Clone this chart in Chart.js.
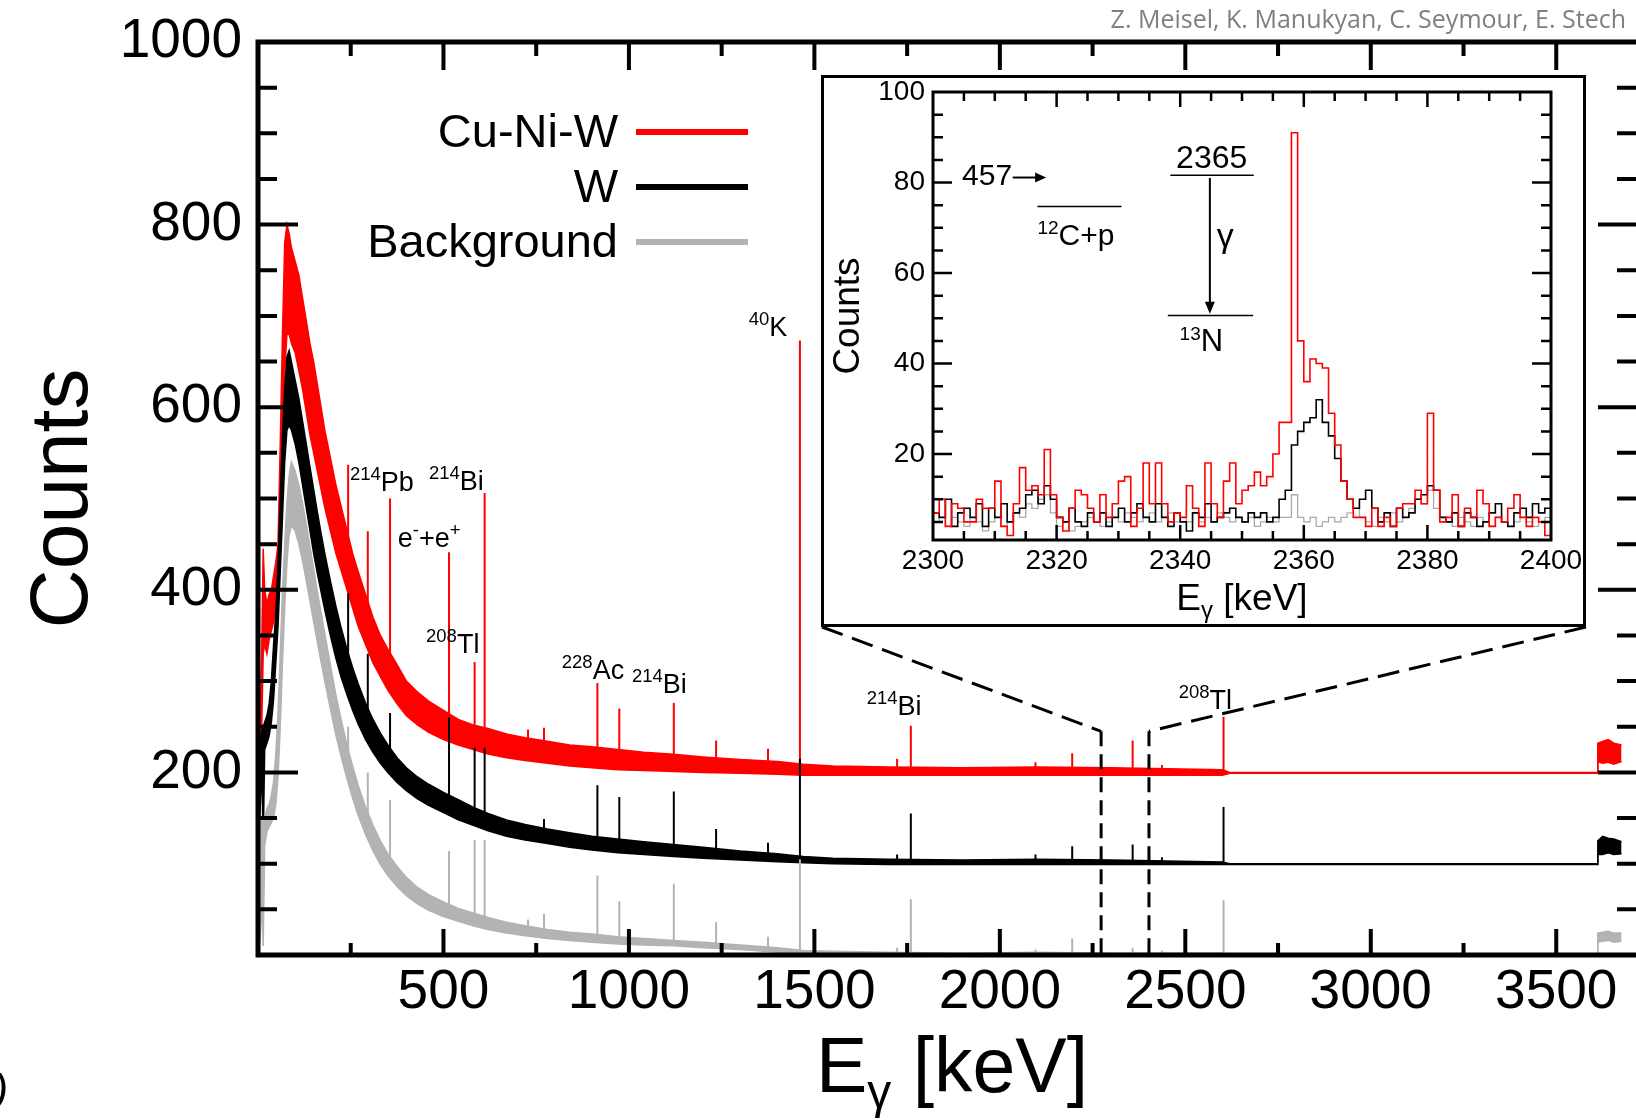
<!DOCTYPE html>
<html>
<head>
<meta charset="utf-8">
<title>Gamma spectra</title>
<script src="https://cdn.jsdelivr.net/npm/chart.js@4.4.1/dist/chart.umd.min.js"></script>
<style>
  html, body { margin: 0; padding: 0; background: #fff; }
  #wrap { position: relative; width: 1636px; height: 1120px; overflow: hidden; }
  #main { position: absolute; left: 0; top: 0; }
  #inset { position: absolute; left: 821px; top: 75px; background: #fff; }
</style>
</head>
<body>
<div id="wrap">
  <canvas id="main" width="1636" height="1120"></canvas>
  <canvas id="inset" width="765" height="552"></canvas>
</div>
<script>
const RED = '#ff0000';
const BLACK = '#000000';
const GREY = '#b3b3b3';
const FONT = "'Liberation Sans', Arial, sans-serif";
Chart.defaults.font.family = FONT;

const seriesNames = ['Cu-Ni-W', 'W', 'Background'];
const seriesColors = [RED, BLACK, GREY];

// continuum envelope (lower / upper edge of the noisy band), counts per bin;
// Cu-Ni-W is shifted up by 200 and W by 100
const bandKeV = [0, 2, 6, 10, 14, 18, 24, 30, 36, 42,
  48, 54, 60, 66, 72, 78, 84, 90, 100, 110,
  120, 130, 140, 150, 160, 170, 180, 195, 210, 225,
  240, 255, 270, 290, 310, 330, 350, 375, 400, 430,
  460, 500, 540, 580, 620, 670, 720, 780, 840, 900,
  970, 1040, 1120, 1200, 1300, 1400, 1470, 1550, 1700, 1900,
  2100, 2300, 2450, 2600, 2620, 3000, 3611, 3612, 3625, 3640,
  3655, 3676];

const cuNiWLow = [198, 198, 200, 250, 330, 340, 330, 345, 355, 365,
  380, 400, 460, 560, 640, 680, 680, 670, 660, 640,
  620, 595, 570, 550, 530, 510, 490, 465, 440, 420,
  400, 380, 360, 340, 320, 305, 290, 275, 262, 252,
  244, 236, 230, 225, 220, 216, 213, 210, 207, 205,
  203, 202, 201, 200, 199, 198, 197, 197, 197, 197,
  197, 197, 197, 197, 199, 199, 199, 212, 210, 211,
  209, 212];
const cuNiWHigh = [202, 204, 262, 330, 445, 400, 385, 395, 400, 415,
  430, 450, 560, 680, 780, 800, 790, 775, 760, 745,
  720, 695, 670, 650, 625, 600, 575, 545, 515, 490,
  465, 440, 420, 395, 370, 350, 335, 318, 300, 288,
  278, 268, 258, 252, 248, 242, 238, 234, 230, 228,
  225, 222, 220, 217, 214, 212, 209, 207, 206, 205,
  206, 205, 204, 203, 200, 200, 200, 232, 234, 236,
  232, 230];

const wLow = [110, 110, 160, 215, 120, 225, 232, 240, 255, 280,
  320, 360, 420, 480, 540, 575, 580, 575, 560, 540,
  515, 490, 465, 440, 418, 398, 378, 350, 325, 303,
  285, 268, 253, 236, 222, 210, 200, 189, 180, 171,
  164, 156, 148, 142, 136, 130, 126, 122, 118, 115,
  112, 110, 108, 106, 104, 102, 101, 100, 99, 99,
  99, 99, 99, 99, 99, 99, 99, 110, 110, 112,
  110, 111];
const wHigh = [120, 180, 235, 245, 250, 255, 262, 275, 300, 340,
  375, 430, 500, 570, 620, 655, 662, 650, 630, 610,
  585, 560, 535, 510, 485, 462, 440, 410, 382, 357,
  335, 315, 297, 276, 258, 243, 230, 216, 205, 195,
  187, 178, 170, 162, 155, 148, 143, 138, 134, 130,
  127, 124, 121, 118, 114, 111, 108, 106, 105, 104,
  105, 104, 103, 102, 100, 100, 100, 125, 130, 128,
  127, 124];

const bgLow = [0, 0, 20, 60, 10, 120, 135, 140, 145, 150,
  165, 195, 250, 320, 380, 430, 460, 470, 465, 450,
  432, 410, 388, 365, 343, 321, 300, 270, 241, 216,
  193, 172, 153, 132, 114, 99, 87, 75, 65, 56,
  49, 42, 37, 32, 28, 24, 21, 18, 16, 14,
  12, 11, 10, 8, 6, 3, 1, 0, 0, 0,
  0, 0, 0, 0, 0, 0, 0, 14, 15, 16,
  14, 15];
const bgHigh = [0, 60, 150, 150, 145, 150, 160, 165, 175, 190,
  220, 265, 330, 400, 450, 495, 525, 540, 530, 515,
  495, 472, 448, 423, 398, 375, 352, 318, 285, 256,
  230, 207, 186, 162, 142, 125, 111, 97, 85, 74,
  66, 58, 51, 46, 41, 36, 32, 28, 25, 23,
  20, 18, 16, 14, 11, 8, 5, 4, 3, 2,
  3, 2, 2, 2, 0, 0, 0, 24, 25, 26,
  24, 24];

// gamma lines: energy, foot and top of each spike
const peakKeV = [243, 296, 356, 515, 584, 611, 728, 771, 915, 974, 1121, 1235, 1375, 1461, 1723, 1760, 2096, 2195, 2358, 2437, 2603];
const cuNiWPeakBase = [432, 372, 322, 252, 238, 234, 226, 222, 216, 214, 210, 207, 204, 202, 201, 201, 201, 201, 201, 200, 200];
const cuNiWPeakTop = [537, 464, 500, 441, 321, 506, 247, 249, 298, 270, 276, 235, 226, 673, 215, 251, 211, 221, 235, 208, 261];
const wPeakBase = [310, 256, 215, 167, 152, 146, 134, 131, 122, 120, 115, 111, 107, 104, 102, 102, 101, 101, 101, 101, 100];
const wPeakTop = [396, 330, 265, 260, 227, 227, 138, 149, 186, 173, 179, 138, 123, 215, 110, 155, 110, 119, 121, 107, 162];
const bgPeakBase = [210, 147, 99, 50, 39, 35, 26, 23, 18, 16, 13, 10, 6, 3, 1, 1, 1, 1, 1, 1, 0];
const bgPeakTop = [250, 200, 170, 114, 126, 126, 39, 45, 87, 59, 78, 36, 20, 105, 8, 61, 6, 18, 8, 5, 60];

const mainXTicks = [500, 1000, 1500, 2000, 2500, 3000, 3500];
const mainYTicks = [200, 400, 600, 800, 1000];

// line identifications, anchored at the left end of the text baseline
const isotopeLabels = [
  { mass: '214', sym: 'Pb', keV: 248, counts: 508 },
  { mass: '214', sym: 'Bi', keV: 461, counts: 509 },
  { mass: '208', sym: 'Tl', keV: 453, counts: 331 },
  { mass: '228', sym: 'Ac', keV: 819, counts: 302 },
  { mass: '214', sym: 'Bi', keV: 1008, counts: 287 },
  { mass: '40', sym: 'K', keV: 1323, counts: 678 },
  { mass: '214', sym: 'Bi', keV: 1641, counts: 263 },
  { mass: '208', sym: 'Tl', keV: 2482, counts: 269 },
];
const annihilationLabel = { keV: 377, counts: 447 };

// zoom window drawn in the inset
const zoomFromKeV = 2273;
const zoomToKeV = 2402;
const zoomTopCounts = 245;

// inset: 1 keV bins starting at 2300 keV
const insetFirstBin = 2300;
const insetCuNiW = [7, 10, 4, 9, 8, 5, 5, 10, 8, 8,
  14, 4, 2, 9, 17, 12, 13, 11, 21, 11,
  6, 3, 8, 12, 11, 8, 5, 11, 6, 9,
  14, 15, 4, 8, 18, 9, 18, 9, 5, 7,
  6, 13, 8, 4, 18, 9, 6, 14, 18, 9,
  12, 13, 16, 13, 15, 20, 27, 27, 91, 45,
  36, 41, 40, 39, 29, 22, 14, 10, 6, 6,
  4, 8, 4, 6, 4, 8, 9, 9, 12, 9,
  29, 12, 5, 6, 11, 4, 8, 6, 12, 9,
  4, 6, 5, 8, 11, 6, 4, 6, 5, 2];
const insetW = [7, 6, 10, 4, 7, 8, 6, 9, 4, 8,
  6, 9, 5, 7, 8, 11, 12, 9, 13, 10,
  6, 5, 8, 5, 4, 7, 5, 7, 4, 6,
  8, 5, 7, 9, 6, 5, 9, 6, 4, 7,
  5, 3, 7, 6, 9, 5, 6, 7, 8, 6,
  5, 7, 6, 7, 5, 6, 10, 12, 22, 25,
  27, 28, 32, 27, 24, 19, 14, 10, 8, 10,
  12, 8, 5, 7, 4, 8, 6, 7, 10, 11,
  13, 12, 6, 5, 7, 4, 7, 6, 4, 5,
  7, 9, 5, 4, 7, 8, 6, 9, 7, 8];
const insetBg = [5, 6, 4, 6, 5, 4, 6, 5, 3, 5,
  6, 4, 5, 7, 6, 9, 8, 10, 11, 7,
  4, 5, 3, 4, 5, 6, 5, 4, 5, 6,
  5, 7, 6, 5, 6, 7, 5, 6, 7, 5,
  6, 5, 7, 5, 6, 5, 7, 6, 5, 6,
  5, 6, 4, 5, 6, 5, 6, 6, 11, 6,
  5, 6, 4, 5, 6, 5, 6, 7, 8, 6,
  5, 4, 6, 5, 7, 5, 6, 8, 10, 9,
  12, 8, 6, 5, 4, 6, 5, 4, 6, 5,
  4, 6, 5, 4, 5, 6, 5, 4, 5, 6];
const insetXTicks = [2300, 2320, 2340, 2360, 2380, 2400];
const insetYTicks = [20, 40, 60, 80, 100];

const credit = 'Z. Meisel, K. Manukyan, C. Seymour, E. Stech';

// fixes an axis box to a given thickness so the plot area lands where we want it
function pinScale(size) {
  return (scale) => {
    if (scale.isHorizontal()) scale.height = size; else scale.width = size;
    scale.paddingLeft = scale.paddingRight = scale.paddingTop = scale.paddingBottom = 0;
  };
}

function fixedTicks(values) {
  return (scale) => { scale.ticks = values.map(v => ({ value: v })); };
}

function spectrumDatasets(k, low, high, base, top, order) {
  const color = seriesColors[k];
  const edge = arr => bandKeV.map((e, i) => ({ x: e, y: arr[i] }));
  const spikes = [];
  peakKeV.forEach((e, i) => {
    spikes.push({ x: e, y: base[i] }, { x: e, y: top[i] }, { x: e, y: null });
  });
  return [
    { label: seriesNames[k], data: edge(high), borderColor: color, borderWidth: 1.5, fill: false, order },
    { label: seriesNames[k], data: edge(low), borderColor: color, backgroundColor: color, borderWidth: 1.5, fill: '-1', order },
    { label: seriesNames[k], data: spikes, borderColor: color, borderWidth: 2, fill: false, order },
  ];
}

function drawTicks(ctx, list) {
  ctx.beginPath();
  for (const [x0, y0, x1, y1] of list) { ctx.moveTo(x0, y0); ctx.lineTo(x1, y1); }
  ctx.stroke();
}

// text with a smaller raised part in front, e.g. mass number + element
function drawNuclide(ctx, px, py, mass, sym, big, small, raise) {
  ctx.font = `${small}px ${FONT}`;
  ctx.fillText(mass, px, py - raise);
  const w = ctx.measureText(mass).width;
  ctx.font = `${big}px ${FONT}`;
  ctx.fillText(sym, px + w, py);
}

// E with gamma subscript followed by the unit, centred on cx
function drawEgamma(ctx, cx, baseline, big, small, drop) {
  ctx.font = `${big}px ${FONT}`;
  const wE = ctx.measureText('E').width;
  const wRest = ctx.measureText(' [keV]').width;
  ctx.font = `${small}px ${FONT}`;
  const wG = ctx.measureText('γ').width;
  let x = cx - (wE + wG + wRest) / 2;
  ctx.textAlign = 'left';
  ctx.font = `${big}px ${FONT}`;
  ctx.fillText('E', x, baseline);
  x += wE;
  ctx.font = `${small}px ${FONT}`;
  ctx.fillText('γ', x, baseline + drop);
  x += wG;
  ctx.font = `${big}px ${FONT}`;
  ctx.fillText(' [keV]', x, baseline);
}

const mainDecor = {
  id: 'mainDecor',
  afterDraw(chart) {
    const { ctx, chartArea: a, scales: { x, y } } = chart;
    ctx.save();
    ctx.strokeStyle = '#000';
    ctx.fillStyle = '#000';

    // dashed lines from the inset frame down to the zoomed window
    const box = { left: 822, right: 1586, bottom: 627 };
    const xl = x.getPixelForValue(zoomFromKeV);
    const xr = x.getPixelForValue(zoomToKeV);
    const yt = y.getPixelForValue(zoomTopCounts);
    ctx.lineWidth = 3;
    ctx.setLineDash([22, 10]);
    ctx.beginPath();
    ctx.moveTo(box.left, box.bottom); ctx.lineTo(xl, yt);
    ctx.moveTo(box.right, box.bottom); ctx.lineTo(xr, yt);
    ctx.stroke();
    ctx.setLineDash([15, 8]);
    ctx.beginPath();
    ctx.moveTo(xl, yt); ctx.lineTo(xl, a.bottom);
    ctx.moveTo(xr, yt); ctx.lineTo(xr, a.bottom);
    ctx.stroke();
    ctx.setLineDash([]);

    // frame (the right edge sits on the canvas border)
    ctx.lineWidth = 5;
    ctx.beginPath();
    ctx.moveTo(a.right + 3, a.top); ctx.lineTo(a.left, a.top);
    ctx.lineTo(a.left, a.bottom); ctx.lineTo(a.right + 3, a.bottom);
    ctx.stroke();

    // ticks pointing into the plot on all sides
    ctx.lineWidth = 4;
    const t = [];
    for (let v = 250; v <= x.max; v += 250) {
      const px = x.getPixelForValue(v);
      const major = v % 500 === 0;
      t.push([px, a.top, px, a.top + (major ? 28 : 14)]);
      t.push([px, a.bottom, px, a.bottom - (major ? 26 : 12)]);
    }
    for (let v = 50; v < y.max; v += 50) {
      const py = y.getPixelForValue(v);
      const major = v % 200 === 0;
      t.push([a.left, py, a.left + (major ? 40 : 19), py]);
      t.push([a.right, py, a.right - (major ? 38 : 19), py]);
    }
    drawTicks(ctx, t);

    // axis titles
    ctx.textAlign = 'center';
    ctx.textBaseline = 'alphabetic';
    ctx.save();
    ctx.translate(87, (a.top + a.bottom) / 2);
    ctx.rotate(-Math.PI / 2);
    ctx.font = `82px ${FONT}`;
    ctx.fillText('Counts', 0, 0);
    ctx.restore();
    drawEgamma(ctx, 952, 1092, 77, 48, 16);

    // legend
    ctx.textAlign = 'right';
    ctx.font = `47px ${FONT}`;
    seriesNames.forEach((name, i) => {
      const ly = 132 + i * 55;
      ctx.fillStyle = '#000';
      ctx.fillText(name, 618, ly + 15);
      ctx.strokeStyle = seriesColors[i];
      ctx.lineWidth = 6;
      ctx.beginPath();
      ctx.moveTo(636, ly); ctx.lineTo(748, ly);
      ctx.stroke();
    });

    // line identifications
    ctx.textAlign = 'left';
    ctx.fillStyle = '#000';
    for (const lab of isotopeLabels) {
      drawNuclide(ctx, x.getPixelForValue(lab.keV), y.getPixelForValue(lab.counts), lab.mass, lab.sym, 27, 18.5, 11);
    }
    let ex = x.getPixelForValue(annihilationLabel.keV);
    const ey = y.getPixelForValue(annihilationLabel.counts);
    for (const [s, size, raise] of [['e', 27, 0], ['-', 18.5, 11], ['+', 27, 0], ['e', 27, 0], ['+', 18.5, 11]]) {
      ctx.font = `${size}px ${FONT}`;
      ctx.fillText(s, ex, ey - raise);
      ex += ctx.measureText(s).width;
    }

    // author line
    ctx.fillStyle = '#7f7f7f';
    ctx.font = "25px 'Open Sans', sans-serif";
    const cw = ctx.measureText(credit).width;
    ctx.save();
    ctx.translate(1626, 28);
    ctx.scale(Math.min(1, 534 / cw), 1);
    ctx.textAlign = 'right';
    ctx.fillText(credit, 0, 0);
    ctx.restore();

    // panel tag cut by the page edge
    ctx.fillStyle = '#000';
    ctx.font = `italic 43px ${FONT}`;
    ctx.textAlign = 'right';
    ctx.fillText(')', 8, 1104);
    ctx.restore();
  }
};

new Chart(document.getElementById('main'), {
  type: 'line',
  data: {
    datasets: [
      ...spectrumDatasets(0, cuNiWLow, cuNiWHigh, cuNiWPeakBase, cuNiWPeakTop, 3),
      ...spectrumDatasets(1, wLow, wHigh, wPeakBase, wPeakTop, 2),
      ...spectrumDatasets(2, bgLow, bgHigh, bgPeakBase, bgPeakTop, 1),
    ]
  },
  options: {
    responsive: false,
    animation: false,
    devicePixelRatio: 1,
    layout: { padding: { top: 42, right: 0, bottom: 0, left: 0 } },
    elements: { point: { radius: 0 }, line: { tension: 0 } },
    plugins: { legend: { display: false }, tooltip: { enabled: false } },
    scales: {
      x: {
        type: 'linear', min: 0, max: 3715,
        afterBuildTicks: fixedTicks(mainXTicks),
        afterFit: pinScale(165),
        grid: { display: false, drawTicks: false },
        border: { display: false },
        ticks: { padding: 5, color: '#000', font: { size: 55 }, maxRotation: 0, autoSkip: false, callback: v => String(v) }
      },
      y: {
        type: 'linear', min: 0, max: 1000,
        afterBuildTicks: fixedTicks(mainYTicks),
        afterFit: pinScale(258),
        grid: { display: false, drawTicks: false },
        border: { display: false },
        ticks: { padding: 16, color: '#000', font: { size: 55 }, autoSkip: false, callback: v => String(v) }
      }
    }
  },
  plugins: [mainDecor]
});

// ---------- inset: 13N capture line region ----------

function insetDataset(values, color, width, order) {
  const pts = values.map((v, i) => ({ x: insetFirstBin + i, y: v }));
  pts.push({ x: insetFirstBin + values.length, y: values[values.length - 1] });
  return { data: pts, borderColor: color, borderWidth: width, stepped: true, fill: false, order };
}

function arrowHead(ctx, tipX, tipY, dx, dy, len, half) {
  ctx.beginPath();
  ctx.moveTo(tipX, tipY);
  ctx.lineTo(tipX - dx * len - dy * half, tipY - dy * len + dx * half);
  ctx.lineTo(tipX - dx * len + dy * half, tipY - dy * len - dx * half);
  ctx.closePath();
  ctx.fill();
}

const insetDecor = {
  id: 'insetDecor',
  afterDraw(chart) {
    const { ctx, chartArea: a, scales: { x, y }, width, height } = chart;
    ctx.save();
    ctx.strokeStyle = '#000';
    ctx.fillStyle = '#000';

    ctx.lineWidth = 3;
    ctx.strokeRect(1.5, 1.5, width - 3, height - 3);
    ctx.strokeRect(a.left, a.top, a.right - a.left, a.bottom - a.top);

    ctx.lineWidth = 2.5;
    const t = [];
    for (let v = 2305; v < 2400; v += 5) {
      const px = x.getPixelForValue(v);
      const len = v % 20 === 0 ? 15 : 9;
      t.push([px, a.top, px, a.top + len], [px, a.bottom, px, a.bottom - len]);
    }
    for (let v = 5; v < 100; v += 5) {
      const py = y.getPixelForValue(v);
      const len = v % 20 === 0 ? 19 : 10;
      t.push([a.left, py, a.left + len, py], [a.right, py, a.right - len, py]);
    }
    drawTicks(ctx, t);

    ctx.textBaseline = 'alphabetic';
    ctx.save();
    ctx.translate(38, (a.top + a.bottom) / 2);
    ctx.rotate(-Math.PI / 2);
    ctx.textAlign = 'center';
    ctx.font = `37px ${FONT}`;
    ctx.fillText('Counts', 0, 0);
    ctx.restore();
    drawEgamma(ctx, (a.left + a.right) / 2, 535, 37, 24, 8);

    // level scheme of 12C(p,γ)13N
    const px = v => x.getPixelForValue(v);
    const py = v => y.getPixelForValue(v);
    ctx.textAlign = 'left';
    ctx.font = `30px ${FONT}`;
    ctx.fillText('457', px(2304.7), py(79.4));
    ctx.lineWidth = 2;
    ctx.beginPath();
    ctx.moveTo(px(2312.9), py(81.1)); ctx.lineTo(px(2317.0), py(81.1));
    ctx.stroke();
    arrowHead(ctx, px(2318.3), py(81.1), 1, 0, 11, 5);

    ctx.lineWidth = 1.5;
    ctx.beginPath();
    ctx.moveTo(px(2316.9), py(74.7)); ctx.lineTo(px(2330.5), py(74.7));
    ctx.moveTo(px(2338.4), py(81.6)); ctx.lineTo(px(2351.9), py(81.6));
    ctx.moveTo(px(2338.0), py(50.6)); ctx.lineTo(px(2351.8), py(50.6));
    ctx.stroke();
    drawNuclide(ctx, px(2316.9), py(66.3), '12', 'C+p', 30, 19, 11);

    ctx.textAlign = 'center';
    ctx.font = `32px ${FONT}`;
    ctx.fillText('2365', px(2345.1), py(83.3));
    ctx.textAlign = 'left';

    ctx.lineWidth = 2;
    ctx.beginPath();
    ctx.moveTo(px(2344.8), py(81.0)); ctx.lineTo(px(2344.8), py(53.0));
    ctx.stroke();
    arrowHead(ctx, px(2344.8), py(51.0), 0, 1, 12, 5);

    ctx.font = `34px ${FONT}`;
    ctx.fillText('γ', px(2345.9), py(65.7));
    drawNuclide(ctx, px(2339.9), py(42.7), '13', 'N', 31, 19, 11);
    ctx.restore();
  }
};

new Chart(document.getElementById('inset'), {
  type: 'line',
  data: {
    datasets: [
      insetDataset(insetCuNiW, RED, 1.6, 1),
      insetDataset(insetW, BLACK, 1.6, 2),
      insetDataset(insetBg, '#aaaaaa', 1.3, 3),
    ]
  },
  options: {
    responsive: false,
    animation: false,
    devicePixelRatio: 1,
    layout: { padding: { top: 17, right: 35, bottom: 0, left: 0 } },
    elements: { point: { radius: 0 }, line: { tension: 0 } },
    plugins: { legend: { display: false }, tooltip: { enabled: false } },
    scales: {
      x: {
        type: 'linear', min: 2300, max: 2400,
        afterBuildTicks: fixedTicks(insetXTicks),
        afterFit: pinScale(87),
        grid: { display: false, drawTicks: false },
        border: { display: false },
        ticks: { padding: 4, color: '#000', font: { size: 28 }, maxRotation: 0, autoSkip: false, callback: v => String(v) }
      },
      y: {
        type: 'linear', min: 1, max: 100,
        afterBuildTicks: fixedTicks(insetYTicks),
        afterFit: pinScale(112),
        grid: { display: false, drawTicks: false },
        border: { display: false },
        ticks: { padding: 8, color: '#000', font: { size: 28 }, autoSkip: false, callback: v => String(v) }
      }
    }
  },
  plugins: [insetDecor]
});
</script>
</body>
</html>
